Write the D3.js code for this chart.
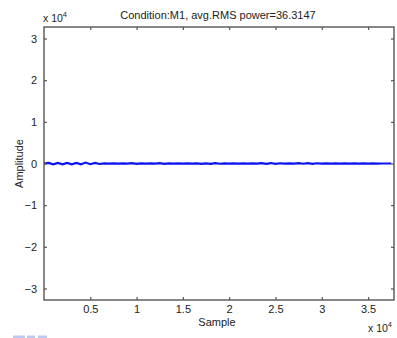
<!DOCTYPE html>
<html>
<head>
<meta charset="utf-8">
<script src="https://cdn.jsdelivr.net/npm/d3@7"></script>
<style>
  body { margin: 0; background: #fff; }
  text { font-family: "Liberation Sans", Arial, sans-serif; fill: #222; }
</style>
</head>
<body>
<div id="chart"></div>
<script>
const W = 397, H = 338
const margin = {top: 27, right: 3, bottom: 38, left: 44}

// chart data
const title = 'Condition:M1, avg.RMS power=36.3147'
const xTicks = [5000, 10000, 15000, 20000, 25000, 30000, 35000]
const yTicks = [-30000, -20000, -10000, 0, 10000, 20000, 30000]
const nSamples = 37800
const sampleStep = 500
// downsampled amplitude (one value per 500 samples)
const signal = [
  0, 150, -180, 120, -200, 140, -210, 160, -190, 220, -170, 130, -120,
  40, -30, 20, -20, 30, -40, 90, -70, 30, -20, 20, -20, 70,
  -90, 40, -30, 20, -30, 30, -20, 20, -80, 50, -110, 80, -60,
  30, -30, 20, -20, 50, -30, 20, -20, 80, -70, 110, -90, 60,
  -40, 20, -10, 80, -60, 100, -80, 60, -30, 20, -20, 10, -10,
  20, -10, 10, -10, 10, -10, 10, -10, 0, 0, 0
]
const fragments = [[13, 25], [27, 35], [38, 47]]

const svg = d3.select('#chart').append('svg')
  .attr('width', W).attr('height', H)

const x = d3.scaleLinear().domain([1, nSamples]).range([margin.left, W - margin.right])
const y = d3.scaleLinear().domain([-32768, 32768]).range([H - margin.bottom, margin.top])

const axisCol = '#555'

// signal
const line = d3.line()
  .x((d, i) => x(Math.min(i * sampleStep + 1, nSamples)))
  .y(d => y(d))

svg.append('path')
  .datum(signal)
  .attr('d', line)
  .attr('fill', 'none')
  .attr('stroke', '#0a14f0')
  .attr('stroke-width', 2.2)

// box
svg.append('rect')
  .attr('x', margin.left).attr('y', margin.top)
  .attr('width', W - margin.right - margin.left)
  .attr('height', H - margin.bottom - margin.top)
  .attr('fill', 'none').attr('stroke', axisCol).attr('stroke-width', 1.4)

const fmt = d => d3.format('~g')(d / 10000)

// axes (inner ticks, mirrored on the opposite side)
svg.append('g').attr('transform', `translate(0,${H - margin.bottom})`)
  .call(d3.axisBottom(x).tickValues(xTicks).tickFormat(fmt).tickSizeInner(-3).tickSizeOuter(0).tickPadding(5))
svg.append('g').attr('transform', `translate(0,${margin.top})`)
  .call(d3.axisTop(x).tickValues(xTicks).tickFormat('').tickSizeInner(-3).tickSizeOuter(0))
svg.append('g').attr('transform', `translate(${margin.left},0)`)
  .call(d3.axisLeft(y).tickValues(yTicks).tickFormat(fmt).tickSizeInner(-3).tickSizeOuter(0).tickPadding(7))
svg.append('g').attr('transform', `translate(${W - margin.right},0)`)
  .call(d3.axisRight(y).tickValues(yTicks).tickFormat('').tickSizeInner(-3).tickSizeOuter(0))

svg.selectAll('.domain').remove()
svg.selectAll('.tick line').attr('stroke', axisCol).attr('stroke-width', 1.2)
svg.selectAll('.tick text').style('font-size', '11px').style('font-family', '"Liberation Sans", Arial, sans-serif').attr('fill', '#222')

// title
svg.append('text')
  .attr('x', (margin.left + W - margin.right) / 2 - 1).attr('y', 19)
  .attr('text-anchor', 'middle').style('font-size', '11px')
  .text(title)

// exponent labels
const expo = (px, py) => {
  const t = svg.append('text').attr('x', px).attr('y', py).style('font-size', '10.5px')
  t.append('tspan').text('x 10')
  t.append('tspan').attr('dy', -5).style('font-size', '7.5px').text('4')
}
expo(43, 22)
expo(368, 332)

// axis labels
svg.append('text')
  .attr('x', (margin.left + W - margin.right) / 2 - 2).attr('y', 326)
  .attr('text-anchor', 'middle').style('font-size', '11px')
  .text('Sample')

svg.append('text')
  .attr('transform', `translate(23,${y(0)}) rotate(-90)`)
  .attr('text-anchor', 'middle').style('font-size', '11px')
  .text('Amplitude')

// faint blue fragment at the bottom-left edge
svg.selectAll('rect.frag')
  .data(fragments)
  .enter().append('rect')
  .attr('class', 'frag')
  .attr('x', d => d[0]).attr('y', 335.5)
  .attr('width', d => d[1] - d[0]).attr('height', 2.5)
  .attr('fill', '#bccaf0')
</script>
</body>
</html>
